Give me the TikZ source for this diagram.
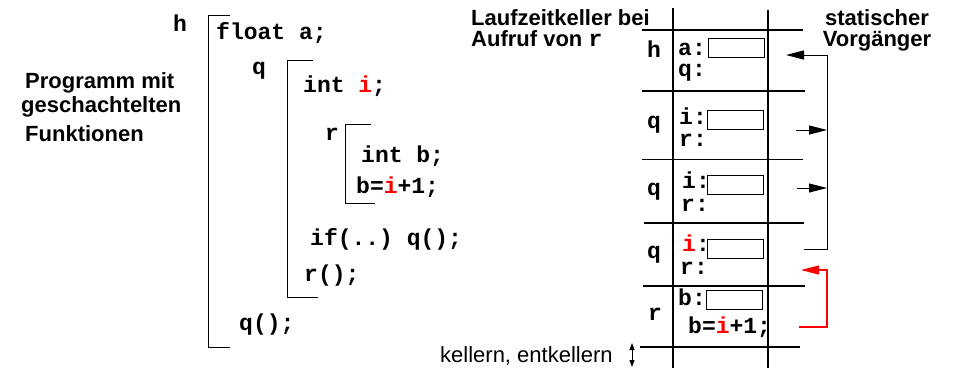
\documentclass[tikz,border=0pt]{standalone}
\usepackage{fontspec}
\setmainfont{Liberation Sans}
\setsansfont{Liberation Sans}
\setmonofont{Liberation Mono}
\usetikzlibrary{arrows.meta}
\begin{document}
\begin{tikzpicture}[x=1pt,y=-1pt,
  code/.style={inner sep=0pt,anchor=base west,font=\fontsize{23}{26}\selectfont\ttfamily\bfseries},
  ttl/.style={inner sep=0pt,anchor=base west,font=\fontsize{22}{26}\selectfont\sffamily\bfseries},
  plain/.style={inner sep=0pt,anchor=base west,font=\fontsize{22}{26}\selectfont\sffamily},
  br/.style={line width=1pt,black},
  stk/.style={line width=1.1pt,black},
  vbox/.style={draw=black,line width=0.9pt,minimum width=56pt,minimum height=19pt,inner sep=0pt},
  arr/.style={line width=1pt,black,-{Triangle[length=18pt,width=9pt]}},
  rarr/.style={line width=1.1pt,red,-{Triangle[length=18pt,width=9pt]}},
  dbl/.style={line width=0.8pt,{Triangle[length=7pt,width=5pt]}-{Triangle[length=7pt,width=5pt]}}]
\useasboundingbox (0,0) rectangle (957,368);

% left titles
\node[ttl] (t1) at (25,88) {Programm mit};
\node[ttl] (t2) at (21,112) {geschachtelten};
\node[ttl] (t3) at (25,141) {Funktionen};

% program
\node[code] (lh) at (173,31) {h};
\draw[br] (230,15.7) -- (208.5,15.7) -- (208.5,347.7) -- (230,347.7);
\node[code] (c1) at (216,39) {float a;};
\node[code] (lq) at (252,74) {q};
\draw[br] (313,60) -- (287.5,60) -- (287.5,297) -- (318,297);
\node[code] (c2) at (303,92) {int {\color{red}i};};
\node[code] (lr) at (325,140) {r};
\draw[br] (371,124) -- (345,124) -- (345,203) -- (375,203);
\node[code] (c3) at (361,162) {int b;};
\node[code] (c4) at (356,193) {b={\color{red}i}+1;};
\node[code] (c5) at (310,245) {if(..) q();};
\node[code] (c6) at (304,281) {r();};
\node[code] (c7) at (239,330) {q();};

% stack heading
\node[ttl] (s1) at (471,25) {Laufzeitkeller bei};
\node[ttl] (s2) at (471,46) {Aufruf von {\fontsize{23}{26}\selectfont\ttfamily r}};
\node[ttl,anchor=base] (v1) at (877,25) {statischer};
\node[ttl,anchor=base] (v2) at (877,46) {Vorgänger};

% stack lines
\draw[stk] (673,8) -- (673,368);
\draw[stk] (768,10) -- (768,368);
\foreach \yy/\xa/\xb in {30/642/803, 91/642/805, 159.5/642/803, 223/644/804, 286/643/805, 347/640/800}
  \draw[stk] (\xa,\yy) -- (\xb,\yy);

% frame h
\node[code] (fh) at (647,57) {h};
\node[code] (fa) at (678,55) {a:};
\node[vbox] (ba) at (736,47.5) {};
\node[code] (fq) at (678,76) {q:};
% frame q 1
\node[code] (fq1) at (647,128) {q};
\node[code] (fi1) at (679,124) {i:};
\node[vbox] (bi1) at (735,120) {};
\node[code] (fr1) at (679,146) {r:};
% frame q 2
\node[code] (fq2) at (647,195) {q};
\node[code] (fi2) at (682,188) {i:};
\node[vbox] (bi2) at (735,184.5) {};
\node[code] (fr2) at (681,211) {r:};
% frame q 3
\node[code] (fq3) at (647,258) {q};
\node[code] (fi3) at (682,251) {{\color{red}i}:};
\node[vbox] (bi3) at (735,248.5) {};
\node[code] (fr3) at (680,274) {r:};
% frame r
\node[code] (fr) at (648,320) {r};
\node[code] (fb) at (678,305) {b:};
\node[vbox] (bb) at (734.5,299.5) {};
\node[code] (fbx) at (688,333) {b={\color{red}i}+1;};

% static links
\coordinate (hA) at (786,55);
\coordinate (k1) at (827,55);
\coordinate (k2) at (827,249);
\coordinate (q3s) at (804,249);
\draw[arr] (q3s) -- (k2) -- (k1) -- (hA);
\coordinate (q1s) at (796,130);
\coordinate (q1e) at (827,130);
\draw[arr] (q1s) -- (q1e);
\coordinate (q2s) at (797,188);
\coordinate (q2e) at (827,188);
\draw[arr] (q2s) -- (q2e);
\coordinate (rs) at (799,327);
\coordinate (r1) at (827,327);
\coordinate (r2) at (827,270);
\coordinate (rA) at (801,270);
\draw[rarr] (rs) -- (r1) -- (r2) -- (rA);

% push / pop
\node[plain] (ke) at (440,362) {kellern, entkellern};
\coordinate (d1) at (632,343);
\coordinate (d2) at (632,367);
\draw[dbl] (d1) -- (d2);
\end{tikzpicture}
\end{document}
